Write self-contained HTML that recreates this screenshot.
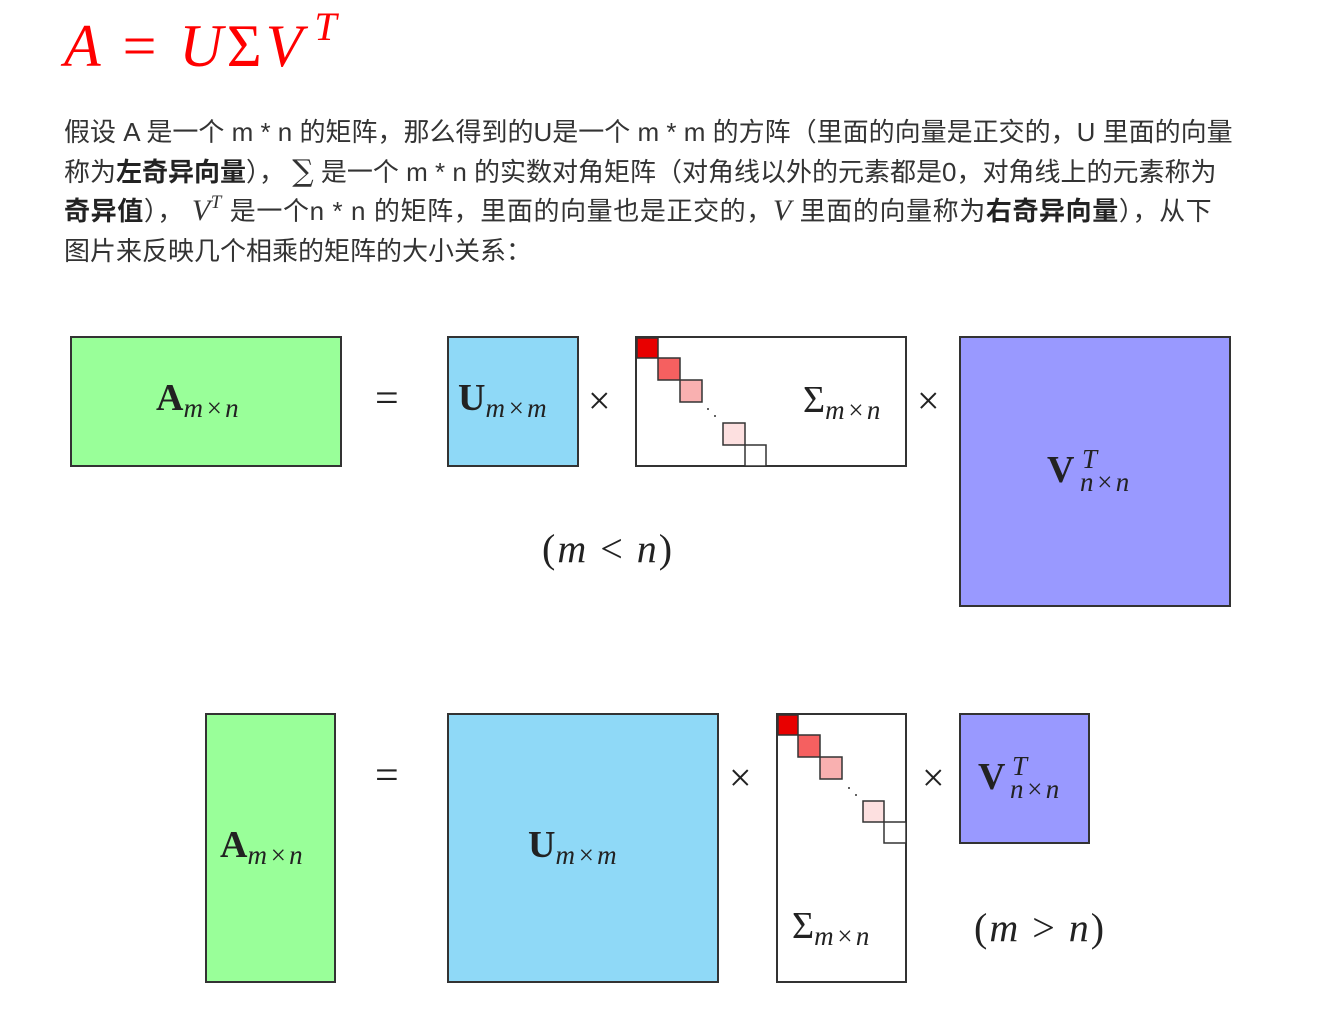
<!DOCTYPE html>
<html><head><meta charset="utf-8"><style>
body{margin:0;width:1328px;height:1026px;background:#fff;position:relative;overflow:hidden;font-family:"Liberation Sans","Noto Sans CJK SC",sans-serif;}
.l{position:absolute;left:64px;font-size:26px;color:#333;white-space:nowrap;line-height:32px;height:32px;}
.m{font-family:"Liberation Serif","DejaVu Serif",serif;font-style:italic;display:inline-block;line-height:26px;}
b{color:#222}
</style></head><body>
<div style="position:absolute;left:64px;top:12px;font-family:'Liberation Serif',serif;font-style:italic;font-size:60px;color:#f00;white-space:nowrap;letter-spacing:4px">A <span style="font-style:normal">=</span> U<span style="font-style:normal">Σ</span>V<span style="font-size:40px;position:relative;top:-26px;margin-left:8px">T</span></div>
<div class="l" style="top:116px">假设 A 是一个 m * n 的矩阵，那么得到的U是一个 m * m 的方阵（里面的向量是正交的，U 里面的向量</div>
<div class="l" style="top:156px">称为<b>左奇异向量</b>）， <span style="font-family:'DejaVu Serif',serif;font-size:30px;display:inline-block;line-height:26px">∑</span> 是一个 m * n 的实数对角矩阵（对角线以外的元素都是0，对角线上的元素称为</div>
<div class="l" style="top:195px;letter-spacing:0.6px"><b>奇异值</b>）， <span class="m" style="font-size:30px">V<span style="font-size:19px;position:relative;top:-12px">T</span></span> 是一个n * n 的矩阵，里面的向量也是正交的，<span class="m" style="font-size:30px">V</span> 里面的向量称为<b>右奇异向量</b>），从下</div>
<div class="l" style="top:235px">图片来反映几个相乘的矩阵的大小关系：</div>
<svg width="1328" height="1026" style="position:absolute;left:0;top:0" font-family="Liberation Serif,serif">
<g stroke="#333" stroke-width="2">
<rect x="71" y="337" width="270" height="129" fill="#99ff99"/>
<rect x="448" y="337" width="130" height="129" fill="#8fd9f7"/>
<rect x="636" y="337" width="270" height="129" fill="#fff"/>
<rect x="960" y="337" width="270" height="269" fill="#9999ff"/>
<rect x="206" y="714" width="129" height="268" fill="#99ff99"/>
<rect x="448" y="714" width="270" height="268" fill="#8fd9f7"/>
<rect x="777" y="714" width="129" height="268" fill="#fff"/>
<rect x="960" y="714" width="129" height="129" fill="#9999ff"/>
</g>
<g stroke="#333" stroke-width="1.5">
<rect x="637" y="338" width="21" height="20" fill="#e80000"/>
<rect x="658" y="358" width="22" height="22" fill="#f56060"/>
<rect x="680" y="380" width="22" height="22" fill="#f9b0b0"/>
<rect x="723" y="423" width="22" height="22" fill="#fde0e0"/>
<rect x="745" y="445" width="21" height="21" fill="#fff"/>
<rect x="778" y="715" width="20" height="20" fill="#e80000"/>
<rect x="798" y="735" width="22" height="22" fill="#f56060"/>
<rect x="820" y="757" width="22" height="22" fill="#f9b0b0"/>
<rect x="863" y="801" width="21" height="21" fill="#fde0e0"/>
<rect x="884" y="822" width="22" height="21" fill="#fff"/>
</g>
<g fill="#333"><circle cx="708" cy="409" r="1"/><circle cx="715" cy="416" r="1"/><circle cx="849" cy="788" r="1"/><circle cx="856" cy="795" r="1"/></g>
<g fill="#222" font-size="38">
<text x="156" y="410" font-weight="bold">A<tspan font-size="27" font-style="italic" font-weight="normal" dy="7" letter-spacing="2">m×n</tspan></text>
<text x="458" y="410" font-weight="bold">U<tspan font-size="27" font-style="italic" font-weight="normal" dy="7" letter-spacing="2">m×m</tspan></text>
<text x="803" y="412">Σ<tspan font-size="27" font-style="italic" dy="7" letter-spacing="2">m×n</tspan></text>
<text x="1047" y="482" font-weight="bold">V</text><text x="1082" y="468" font-size="27" font-style="italic">T</text><text x="1080" y="491" font-size="27" font-style="italic" letter-spacing="2">n×n</text>
<text x="220" y="857" font-weight="bold">A<tspan font-size="27" font-style="italic" font-weight="normal" dy="7" letter-spacing="2">m×n</tspan></text>
<text x="528" y="857" font-weight="bold">U<tspan font-size="27" font-style="italic" font-weight="normal" dy="7" letter-spacing="2">m×m</tspan></text>
<text x="792" y="938">Σ<tspan font-size="27" font-style="italic" dy="7" letter-spacing="2">m×n</tspan></text>
<text x="978" y="789" font-weight="bold">V</text><text x="1012" y="775" font-size="27" font-style="italic">T</text><text x="1010" y="798" font-size="27" font-style="italic" letter-spacing="2">n×n</text>
<text x="375" y="412" font-size="42">=</text>
<text x="375" y="789" font-size="42">=</text>
<text x="588" y="414" font-size="40">×</text>
<text x="917" y="414" font-size="40">×</text>
<text x="729" y="791" font-size="40">×</text>
<text x="922" y="791" font-size="40">×</text>
<text x="542" y="562" font-size="40" letter-spacing="2">(<tspan font-style="italic">m</tspan> &lt; <tspan font-style="italic">n</tspan>)</text>
<text x="974" y="941" font-size="40" letter-spacing="2">(<tspan font-style="italic">m</tspan> &gt; <tspan font-style="italic">n</tspan>)</text>
</g>
</svg>
</body></html>
